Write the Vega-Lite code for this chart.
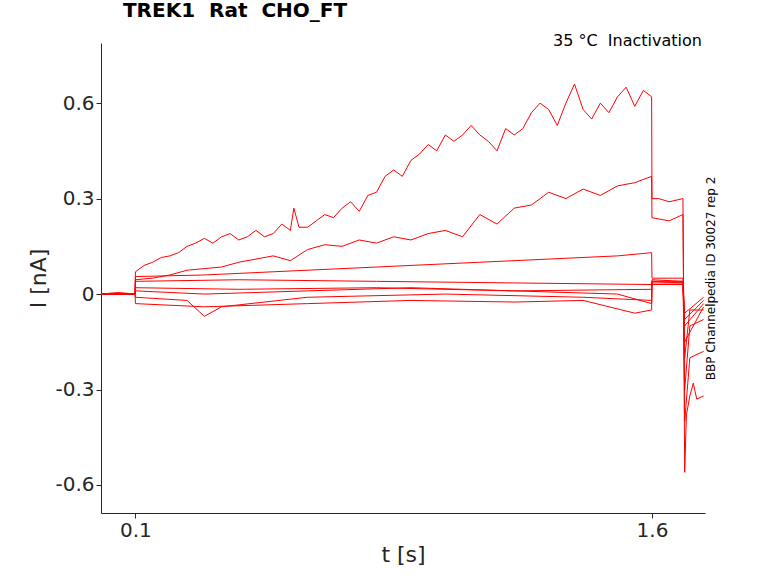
{
  "$schema": "https://vega.github.io/schema/vega-lite/v6.json",
  "width": 604,
  "height": 470,
  "autosize": {"type": "none"},
  "padding": {"left": 101, "top": 43, "right": 73, "bottom": 70},
  "background": "white",
  "title": {"text": "TREK1\u00a0\u00a0Rat\u00a0\u00a0CHO_FT", "anchor": "start", "offset": 12, "dx": 95, "fontSize": 20, "fontWeight": "bold", "font": "DejaVu Sans", "color": "black"},
  "data": {
    "values": [
      {"s":"a","t":0,"i":0},{"s":"a","t":0.05,"i":0.005},{"s":"a","t":0.099,"i":0},{"s":"a","t":0.1,"i":0.07},{"s":"a","t":0.125,"i":0.09},{"s":"a","t":0.15,"i":0.1},{"s":"a","t":0.175,"i":0.115},{"s":"a","t":0.2,"i":0.12},{"s":"a","t":0.225,"i":0.13},{"s":"a","t":0.25,"i":0.15},{"s":"a","t":0.275,"i":0.16},{"s":"a","t":0.3,"i":0.175},{"s":"a","t":0.325,"i":0.16},{"s":"a","t":0.35,"i":0.18},{"s":"a","t":0.375,"i":0.19},{"s":"a","t":0.4,"i":0.17},{"s":"a","t":0.425,"i":0.18},{"s":"a","t":0.45,"i":0.2},{"s":"a","t":0.475,"i":0.18},{"s":"a","t":0.5,"i":0.19},{"s":"a","t":0.525,"i":0.22},{"s":"a","t":0.55,"i":0.2},{"s":"a","t":0.56,"i":0.27},{"s":"a","t":0.575,"i":0.21},{"s":"a","t":0.6,"i":0.21},{"s":"a","t":0.625,"i":0.23},{"s":"a","t":0.65,"i":0.25},{"s":"a","t":0.675,"i":0.24},{"s":"a","t":0.7,"i":0.27},{"s":"a","t":0.725,"i":0.29},{"s":"a","t":0.75,"i":0.26},{"s":"a","t":0.775,"i":0.31},{"s":"a","t":0.8,"i":0.32},{"s":"a","t":0.825,"i":0.37},{"s":"a","t":0.85,"i":0.39},{"s":"a","t":0.875,"i":0.37},{"s":"a","t":0.9,"i":0.42},{"s":"a","t":0.925,"i":0.44},{"s":"a","t":0.95,"i":0.47},{"s":"a","t":0.975,"i":0.45},{"s":"a","t":1.0,"i":0.5},{"s":"a","t":1.025,"i":0.48},{"s":"a","t":1.05,"i":0.5},{"s":"a","t":1.075,"i":0.53},{"s":"a","t":1.1,"i":0.5},{"s":"a","t":1.125,"i":0.48},{"s":"a","t":1.15,"i":0.45},{"s":"a","t":1.175,"i":0.52},{"s":"a","t":1.2,"i":0.5},{"s":"a","t":1.225,"i":0.52},{"s":"a","t":1.25,"i":0.57},{"s":"a","t":1.275,"i":0.6},{"s":"a","t":1.3,"i":0.58},{"s":"a","t":1.325,"i":0.53},{"s":"a","t":1.35,"i":0.6},{"s":"a","t":1.375,"i":0.66},{"s":"a","t":1.4,"i":0.58},{"s":"a","t":1.425,"i":0.55},{"s":"a","t":1.45,"i":0.6},{"s":"a","t":1.475,"i":0.57},{"s":"a","t":1.5,"i":0.62},{"s":"a","t":1.525,"i":0.65},{"s":"a","t":1.55,"i":0.59},{"s":"a","t":1.575,"i":0.64},{"s":"a","t":1.599,"i":0.62},{"s":"a","t":1.6,"i":0.3},{"s":"a","t":1.62,"i":0.3},{"s":"a","t":1.65,"i":0.29},{"s":"a","t":1.69,"i":0.3},{"s":"a","t":1.695,"i":-0.56},{"s":"a","t":1.7,"i":-0.38},{"s":"a","t":1.71,"i":-0.32},{"s":"a","t":1.72,"i":-0.28},{"s":"a","t":1.73,"i":-0.33},{"s":"a","t":1.75,"i":-0.32},

      {"s":"b","t":0,"i":0},{"s":"b","t":0.099,"i":0},{"s":"b","t":0.1,"i":0.045},{"s":"b","t":0.15,"i":0.05},{"s":"b","t":0.2,"i":0.06},{"s":"b","t":0.25,"i":0.075},{"s":"b","t":0.3,"i":0.08},{"s":"b","t":0.35,"i":0.085},{"s":"b","t":0.4,"i":0.1},{"s":"b","t":0.45,"i":0.11},{"s":"b","t":0.5,"i":0.12},{"s":"b","t":0.55,"i":0.105},{"s":"b","t":0.6,"i":0.14},{"s":"b","t":0.65,"i":0.155},{"s":"b","t":0.7,"i":0.15},{"s":"b","t":0.75,"i":0.17},{"s":"b","t":0.8,"i":0.16},{"s":"b","t":0.85,"i":0.18},{"s":"b","t":0.9,"i":0.17},{"s":"b","t":0.95,"i":0.19},{"s":"b","t":1.0,"i":0.2},{"s":"b","t":1.05,"i":0.18},{"s":"b","t":1.1,"i":0.25},{"s":"b","t":1.15,"i":0.22},{"s":"b","t":1.2,"i":0.27},{"s":"b","t":1.25,"i":0.28},{"s":"b","t":1.3,"i":0.32},{"s":"b","t":1.35,"i":0.3},{"s":"b","t":1.4,"i":0.33},{"s":"b","t":1.45,"i":0.31},{"s":"b","t":1.5,"i":0.34},{"s":"b","t":1.55,"i":0.35},{"s":"b","t":1.599,"i":0.37},{"s":"b","t":1.6,"i":0.24},{"s":"b","t":1.65,"i":0.23},{"s":"b","t":1.69,"i":0.25},{"s":"b","t":1.695,"i":-0.4},{"s":"b","t":1.71,"i":-0.2},{"s":"b","t":1.75,"i":-0.18},

      {"s":"c","t":0,"i":0},{"s":"c","t":0.099,"i":0},{"s":"c","t":0.1,"i":0.055},{"s":"c","t":0.3,"i":0.06},{"s":"c","t":0.5,"i":0.07},{"s":"c","t":0.7,"i":0.08},{"s":"c","t":0.9,"i":0.09},{"s":"c","t":1.1,"i":0.1},{"s":"c","t":1.3,"i":0.11},{"s":"c","t":1.5,"i":0.12},{"s":"c","t":1.599,"i":0.13},{"s":"c","t":1.6,"i":0.05},{"s":"c","t":1.69,"i":0.05},{"s":"c","t":1.695,"i":-0.3},{"s":"c","t":1.71,"i":-0.1},{"s":"c","t":1.75,"i":-0.08},

      {"s":"d","t":0,"i":0},{"s":"d","t":0.099,"i":0},{"s":"d","t":0.1,"i":0.04},{"s":"d","t":0.4,"i":0.045},{"s":"d","t":0.8,"i":0.04},{"s":"d","t":1.2,"i":0.035},{"s":"d","t":1.599,"i":0.03},{"s":"d","t":1.6,"i":0.045},{"s":"d","t":1.69,"i":0.04},{"s":"d","t":1.695,"i":-0.2},{"s":"d","t":1.71,"i":-0.05},{"s":"d","t":1.75,"i":-0.05},

      {"s":"e","t":0,"i":0},{"s":"e","t":0.099,"i":0},{"s":"e","t":0.1,"i":0.02},{"s":"e","t":0.4,"i":0.015},{"s":"e","t":0.8,"i":0.02},{"s":"e","t":1.2,"i":0.01},{"s":"e","t":1.599,"i":0.015},{"s":"e","t":1.6,"i":0.04},{"s":"e","t":1.69,"i":0.04},{"s":"e","t":1.695,"i":-0.15},{"s":"e","t":1.75,"i":-0.04},

      {"s":"f","t":0,"i":0},{"s":"f","t":0.099,"i":0},{"s":"f","t":0.1,"i":-0.01},{"s":"f","t":0.25,"i":-0.02},{"s":"f","t":0.3,"i":-0.07},{"s":"f","t":0.35,"i":-0.04},{"s":"f","t":0.6,"i":-0.01},{"s":"f","t":1.0,"i":0},{"s":"f","t":1.4,"i":-0.01},{"s":"f","t":1.599,"i":-0.02},{"s":"f","t":1.6,"i":0.04},{"s":"f","t":1.69,"i":0.035},{"s":"f","t":1.695,"i":-0.1},{"s":"f","t":1.75,"i":-0.03},

      {"s":"g","t":0,"i":0},{"s":"g","t":0.099,"i":0},{"s":"g","t":0.1,"i":-0.03},{"s":"g","t":0.3,"i":-0.04},{"s":"g","t":0.6,"i":-0.03},{"s":"g","t":0.9,"i":-0.02},{"s":"g","t":1.2,"i":-0.025},{"s":"g","t":1.4,"i":-0.02},{"s":"g","t":1.55,"i":-0.06},{"s":"g","t":1.599,"i":-0.05},{"s":"g","t":1.6,"i":0.03},{"s":"g","t":1.69,"i":0.03},{"s":"g","t":1.695,"i":-0.08},{"s":"g","t":1.75,"i":-0.02},

      {"s":"h","t":0,"i":0},{"s":"h","t":0.099,"i":0},{"s":"h","t":0.1,"i":0.01},{"s":"h","t":0.3,"i":0},{"s":"h","t":0.6,"i":0.01},{"s":"h","t":0.9,"i":0.02},{"s":"h","t":1.2,"i":0.01},{"s":"h","t":1.5,"i":0},{"s":"h","t":1.599,"i":-0.03},{"s":"h","t":1.6,"i":0.035},{"s":"h","t":1.69,"i":0.035},{"s":"h","t":1.695,"i":-0.06},{"s":"h","t":1.75,"i":-0.01}
    ]
  },
  "layer": [
    {
      "mark": {"type": "line", "color": "#ff0000", "strokeWidth": 1, "clip": true},
      "encoding": {
        "x": {"field": "t", "type": "quantitative", "title": "t [s]",
          "scale": {"domain": [0, 1.754], "nice": false, "zero": false},
          "axis": {"values": [0.1, 1.6], "format": ".1f"}},
        "y": {"field": "i", "type": "quantitative", "title": "I [nA]",
          "scale": {"domain": [-0.688, 0.789], "nice": false},
          "axis": {"values": [-0.6, -0.3, 0, 0.3, 0.6], "labelExpr": "datum.value == 0 ? '0' : replace(format(datum.value, '.1f'), '−', '-')"}},
        "detail": {"field": "s", "type": "nominal"}
      }
    },
    {
      "data": {"values": [{"t": 1.745, "i": 0.795, "label": "35 °C\u00a0\u00a0Inactivation"}]},
      "mark": {"type": "text", "align": "right", "baseline": "middle", "fontSize": 16, "font": "DejaVu Sans", "color": "black"},
      "encoding": {
        "x": {"field": "t", "type": "quantitative"},
        "y": {"field": "i", "type": "quantitative",
          "axis": {"orient": "right", "title": "BBP Channelpedia ID 30027 rep 2", "titleAngle": 270, "titleFontSize": 12, "titleFontWeight": "normal", "titlePadding": 12, "titleColor": "black", "labels": false, "ticks": false, "domain": false, "grid": false}},
        "text": {"field": "label"}
      }
    }
  ],
  "resolve": {"axis": {"y": "independent"}},
  "config": {
    "view": {"stroke": null},
    "axis": {
      "grid": false,
      "domainColor": "#262626",
      "tickColor": "#262626",
      "tickSize": 5,
      "labelFont": "DejaVu Sans",
      "titleFont": "DejaVu Sans",
      "labelFontSize": 20,
      "titleFontSize": 22,
      "titleFontWeight": "normal",
      "labelColor": "#262626",
      "titleColor": "#262626"
    }
  }
}
